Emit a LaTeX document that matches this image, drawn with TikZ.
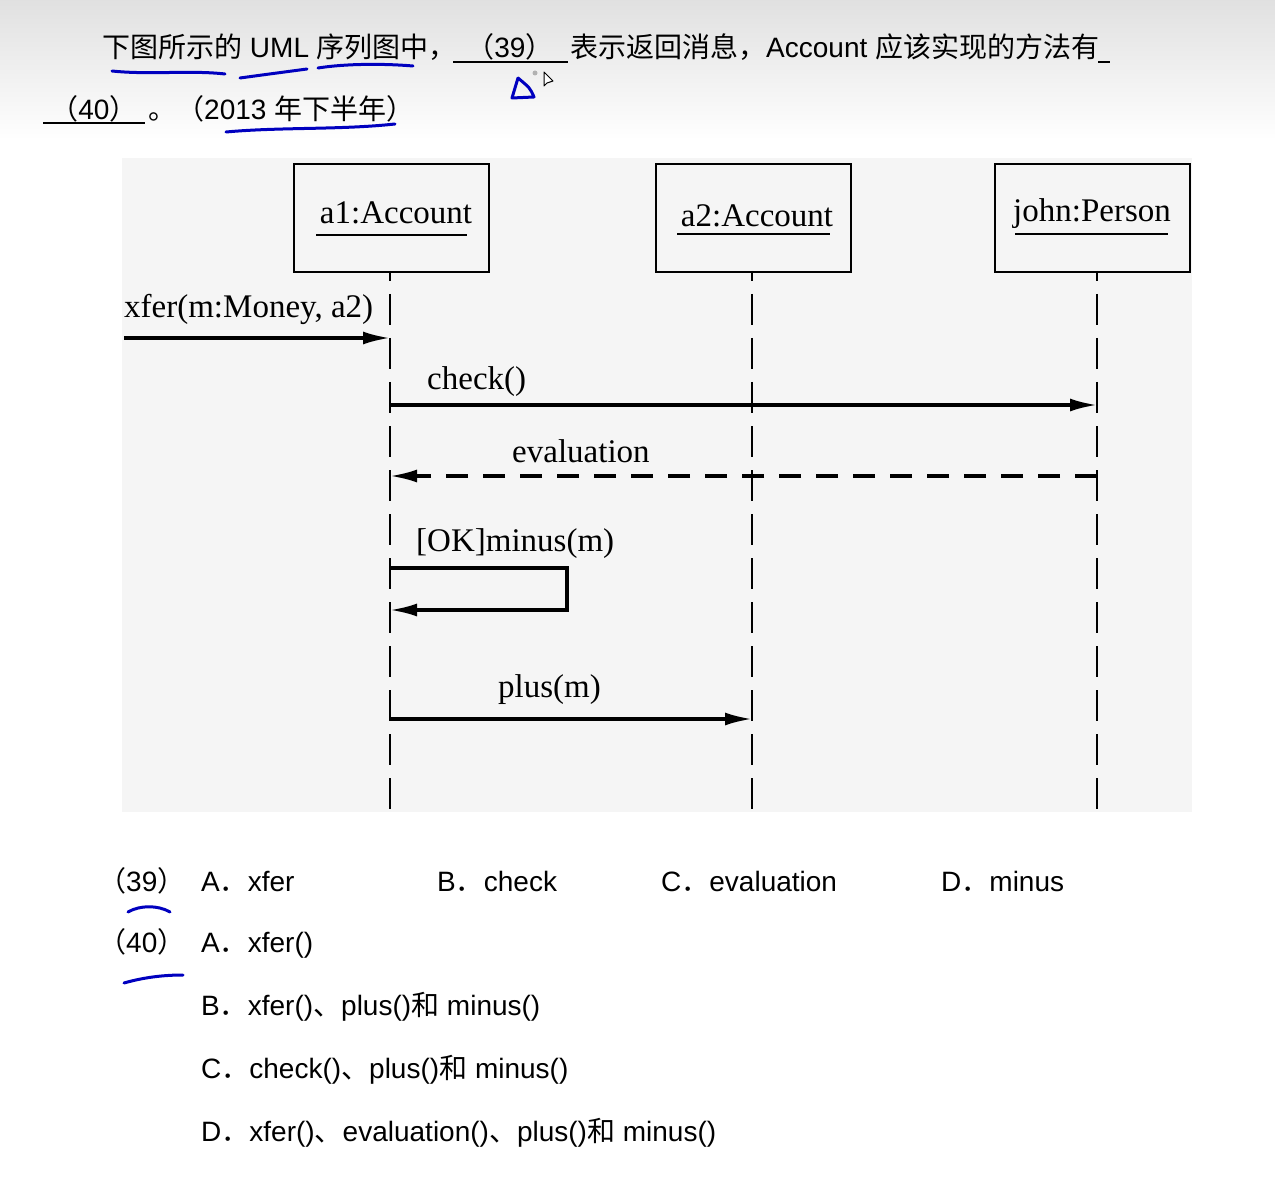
\documentclass[tikz,border=0pt]{standalone}
\usepackage{fontspec}
\setmainfont{Liberation Sans}
\newfontfamily\cjk{Noto Sans CJK SC}
\newfontfamily\tms{Liberation Serif}
\usetikzlibrary{arrows.meta}
\newcommand\zh[1]{{\cjk #1}}
\begin{document}
\begin{tikzpicture}[x=1pt,y=-1pt,
  obj/.style={draw=black,line width=2.4pt,minimum width=195pt,minimum height=108pt,anchor=north west,inner sep=0pt},
  lbl/.style={font=\tms\fontsize{33}{38}\selectfont,inner sep=0pt,anchor=base},
  ulin/.style={line width=2.4pt},
  lifeline/.style={line width=2.8pt,dash pattern=on 31pt off 13pt,dash phase=21pt},
  msg/.style={line width=3.2pt,-{Latex[length=27pt,width=13pt]}},
  ret/.style={msg,dash pattern=on 22pt off 15pt},
  qtext/.style={font=\fontsize{28}{32}\selectfont,inner sep=0pt,anchor=base west},
  blank/.style={line width=2.2pt},
  pen/.style={draw=blue!75!black,line width=3pt,line cap=round}
]
\useasboundingbox (0,0) rectangle (1275,1198);
% backgrounds
\shade[top color=black!12,bottom color=white] (0,0) rectangle (1275,140);
\fill[black!4] (122,158) rectangle (1192,812);

% question text
\node[qtext] (q1a) at (102,58) {\zh{下图所示的} UML \zh{序列图中，}};
\draw[blank] (453,62) -- (568,62);
\node[qtext,anchor=base] (q39) at (510,58) {\zh{（}39\zh{）}};
\node[qtext] (q1b) at (570,58) {\zh{表示返回消息，}Account \zh{应该实现的方法有}};
\draw[blank] (1098,62) -- (1110,62);
\draw[blank] (43,123) -- (145,123);
\node[qtext,anchor=base] (q40) at (94,120) {\zh{（}40\zh{）}};
\node[qtext] (q2) at (148,120) {\zh{。（}2013 \zh{年下半年）}};

% objects
\node[obj] (a1) at (293,163) {};
\node[obj] (a2) at (655,163) {};
\node[obj] (jp) at (994,163) {};
\node[lbl] (a1l) at (396,224) {a1:Account};
\node[lbl] (a2l) at (757,227) {a2:Account};
\node[lbl] (jpl) at (1092,222) {john:Person};
\draw[ulin] (316,235) -- (467,235);
\draw[ulin] (677,234) -- (830,234);
\draw[ulin] (1015,234) -- (1168,234);

% lifelines
\coordinate (t1) at (390,271); \coordinate (b1) at (390,812);
\coordinate (t2) at (752,271); \coordinate (b2) at (752,812);
\coordinate (t3) at (1097,271); \coordinate (b3) at (1097,812);
\draw[lifeline] (t1) -- (b1);
\draw[lifeline] (t2) -- (b2);
\draw[lifeline] (t3) -- (b3);

% messages
\coordinate (x0) at (124,338); \coordinate (x1) at (390,338);
\draw[msg] (x0) -- (x1);
\node[lbl,anchor=base west] (xl) at (124,318) {xfer(m:Money, a2)};
\draw[line width=2.2pt] (390,295) -- (390,322);

\coordinate (c0) at (390,405); \coordinate (c1) at (1097,405);
\draw[msg] (c0) -- (c1);
\node[lbl,anchor=base west] (cl) at (427,389) {check()};

\coordinate (e0) at (1097,476); \coordinate (e1) at (390,476);
\draw[ret] (e0) -- (e1);
\node[lbl,anchor=base west] (el) at (512,462) {evaluation};

\coordinate (m0) at (390,568); \coordinate (mr) at (567,568); \coordinate (mr2) at (567,610); \coordinate (m1) at (390,610);
\draw[msg] (m0) -- (mr) -- (mr2) -- (m1);
\node[lbl,anchor=base west] (ml) at (416,551) {[OK]minus(m)};

\coordinate (p0) at (390,719); \coordinate (p1) at (752,719);
\draw[msg] (p0) -- (p1);
\node[lbl,anchor=base west] (pl) at (498,697) {plus(m)};

% options
\node[qtext] (o39) at (98,891) {\zh{（}39\zh{）}};
\node[qtext] (o39a) at (201,891) {A\zh{．}xfer};
\node[qtext] (o39b) at (437,891) {B\zh{．}check};
\node[qtext] (o39c) at (661,891) {C\zh{．}evaluation};
\node[qtext] (o39d) at (941,891) {D\zh{．}minus};
\node[qtext] (o40) at (98,952) {\zh{（}40\zh{）}};
\node[qtext] (o40a) at (201,952) {A\zh{．}xfer()};
\node[qtext] (o40b) at (201,1015) {B\zh{．}xfer()\zh{、}plus()\zh{和} minus()};
\node[qtext] (o40c) at (201,1078) {C\zh{．}check()\zh{、}plus()\zh{和} minus()};
\node[qtext] (o40d) at (201,1141) {D\zh{．}xfer()\zh{、}evaluation()\zh{、}plus()\zh{和} minus()};

% handwriting
\draw[pen] (112,71) .. controls (150,75) and (190,70) .. (225,74);
\draw[pen] (240,78) .. controls (262,75) .. (307,69);
\draw[pen] (318,68) .. controls (350,63) and (390,64) .. (413,66);
\draw[pen,line join=round] (518,78) -- (512,98) -- (534,97) .. controls (530,88) .. (518,78);
\fill[black!30] (535,73) circle (2.5);
\draw[line width=1pt,fill=white,line join=round] (544,72) -- (544,86) -- (547,83) -- (553,81) -- cycle;
\draw[pen] (226,132) .. controls (280,127) and (340,130) .. (395,124);
\draw[pen] (128,912) .. controls (140,905) and (158,905) .. (170,912);
\draw[pen] (124,983) .. controls (145,977) and (165,975) .. (183,975);
\end{tikzpicture}
\end{document}
